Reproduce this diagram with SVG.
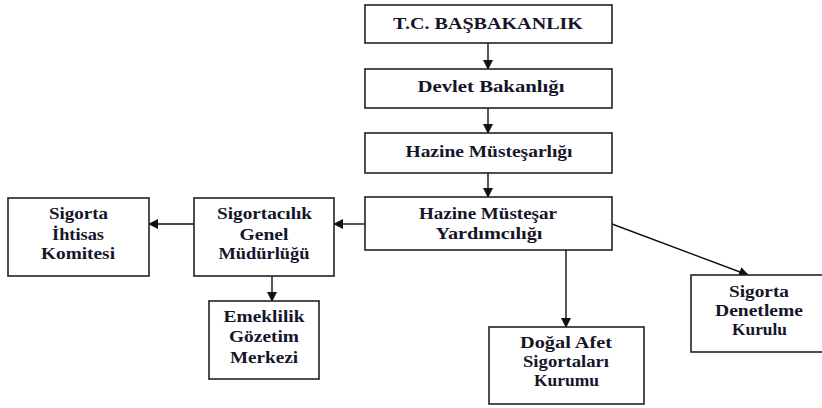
<svg xmlns="http://www.w3.org/2000/svg" width="822" height="408" viewBox="0 0 822 408">
<style>
.box{fill:#fff;stroke:#222;stroke-width:1.6}
.t{font-family:'Liberation Serif','Times New Roman','DejaVu Serif',serif;font-weight:bold;font-size:17px;fill:#15152a;text-anchor:middle}
.c{stroke:#111;stroke-width:1.4;fill:none;marker-end:url(#ah)}
</style>
<defs>
<marker id="ah" markerWidth="10" markerHeight="10" refX="9" refY="5" orient="auto" markerUnits="userSpaceOnUse">
<path d="M0,0 L10,5 L0,10 z" fill="#111"/>
</marker>
</defs>
<rect width="822" height="408" fill="#fff"/>
<g id="connectors">
<line class="c" x1="488" y1="43" x2="488" y2="69"/>
<line class="c" x1="488" y1="108" x2="488" y2="133"/>
<line class="c" x1="488" y1="173" x2="488" y2="197"/>
<line class="c" x1="365" y1="224" x2="334" y2="224"/>
<line class="c" x1="194" y1="224" x2="149" y2="224"/>
<line class="c" x1="272" y1="276" x2="272" y2="301"/>
<line class="c" x1="566" y1="250" x2="566" y2="327"/>
<line class="c" x1="612" y1="224" x2="748" y2="275"/>
</g>
<g id="basbakanlik">
<rect class="box" x="365" y="5" width="247" height="38"/>
<text class="t" x="488" y="29" textLength="190" lengthAdjust="spacingAndGlyphs">T.C. BAŞBAKANLIK</text>
</g>
<g id="devlet">
<rect class="box" x="365" y="69" width="247" height="39"/>
<text class="t" x="491" y="92" textLength="147" lengthAdjust="spacingAndGlyphs">Devlet Bakanlığı</text>
</g>
<g id="hazine">
<rect class="box" x="365" y="133" width="247" height="40"/>
<text class="t" x="489" y="157" textLength="167" lengthAdjust="spacingAndGlyphs">Hazine Müsteşarlığı</text>
</g>
<g id="yardimcilik">
<rect class="box" x="365" y="197" width="247" height="53"/>
<text class="t" x="488" y="219" textLength="138" lengthAdjust="spacingAndGlyphs">Hazine Müsteşar</text>
<text class="t" x="489" y="239" textLength="107" lengthAdjust="spacingAndGlyphs">Yardımcılığı</text>
</g>
<g id="sigortacilik">
<rect class="box" x="194" y="198" width="140" height="78"/>
<text class="t" x="264.5" y="219" textLength="95" lengthAdjust="spacingAndGlyphs">Sigortacılık</text>
<text class="t" x="264" y="240" textLength="49" lengthAdjust="spacingAndGlyphs">Genel</text>
<text class="t" x="264" y="259" textLength="91" lengthAdjust="spacingAndGlyphs">Müdürlüğü</text>
</g>
<g id="ihtisas">
<rect class="box" x="8" y="198" width="141" height="78"/>
<text class="t" x="78.5" y="219" textLength="59" lengthAdjust="spacingAndGlyphs">Sigorta</text>
<text class="t" x="78" y="240" textLength="52" lengthAdjust="spacingAndGlyphs">İhtisas</text>
<text class="t" x="78" y="259" textLength="74" lengthAdjust="spacingAndGlyphs">Komitesi</text>
</g>
<g id="emeklilik">
<rect class="box" x="209" y="301" width="110" height="78"/>
<text class="t" x="264" y="322" textLength="81" lengthAdjust="spacingAndGlyphs">Emeklilik</text>
<text class="t" x="264" y="342" textLength="70" lengthAdjust="spacingAndGlyphs">Gözetim</text>
<text class="t" x="264" y="363" textLength="68" lengthAdjust="spacingAndGlyphs">Merkezi</text>
</g>
<g id="dogal">
<rect class="box" x="489" y="327" width="155" height="77"/>
<text class="t" x="566" y="348" textLength="92" lengthAdjust="spacingAndGlyphs">Doğal Afet</text>
<text class="t" x="566" y="367" textLength="86" lengthAdjust="spacingAndGlyphs">Sigortaları</text>
<text class="t" x="566.5" y="386" textLength="65" lengthAdjust="spacingAndGlyphs">Kurumu</text>
</g>
<g id="denetleme">
<rect class="box" x="691" y="275" width="132" height="77"/>
<text class="t" x="759" y="297" textLength="60" lengthAdjust="spacingAndGlyphs">Sigorta</text>
<text class="t" x="759" y="316" textLength="88" lengthAdjust="spacingAndGlyphs">Denetleme</text>
<text class="t" x="759.5" y="335" textLength="55" lengthAdjust="spacingAndGlyphs">Kurulu</text>
</g>
</svg>
